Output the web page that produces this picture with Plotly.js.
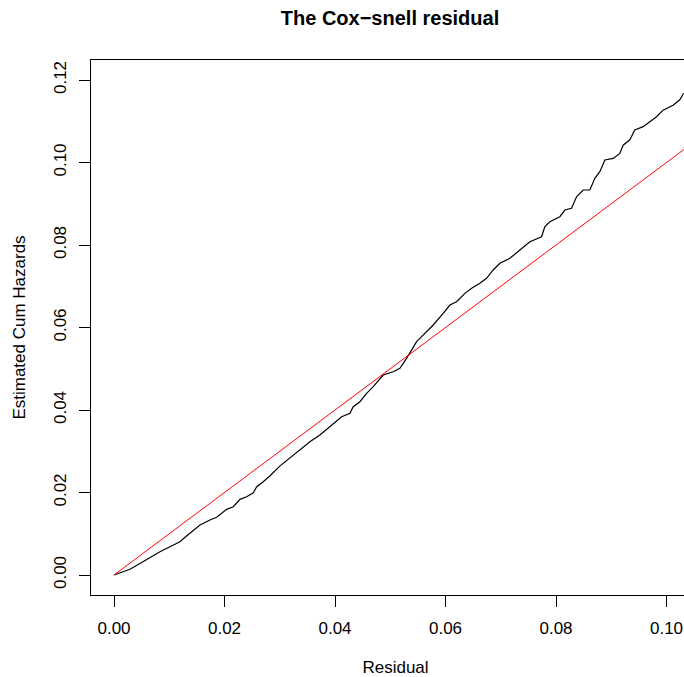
<!DOCTYPE html>
<html>
<head>
<meta charset="utf-8">
<script src="https://cdn.plot.ly/plotly-3.0.1.min.js"></script>
<style>
html, body { margin: 0; padding: 0; overflow: hidden; background: #fff; }
#chart { width: 720px; height: 677px; }
</style>
</head>
<body>
<div id="chart"></div>
<script>
// Cox-Snell residuals (x) vs estimated cumulative hazards (y)
const residual = [0, 0.00289, 0.0047, 0.0065, 0.00832, 0.01013, 0.01194, 0.01285, 0.01496, 0.01556,
  0.01737, 0.01858, 0.02039, 0.02159, 0.0228, 0.02401, 0.02521, 0.02583, 0.02701, 0.0282,
  0.0300, 0.0318, 0.03365, 0.03546, 0.03727, 0.03908, 0.0412, 0.0427, 0.0433, 0.04451,
  0.04572, 0.04692, 0.04813, 0.04872, 0.05053, 0.05175, 0.05296, 0.05355, 0.05477, 0.05567,
  0.05658, 0.05777, 0.05958, 0.06079, 0.062, 0.0636, 0.0648, 0.06622, 0.06743, 0.06863,
  0.06984, 0.07165, 0.07346, 0.07527, 0.07738, 0.07798, 0.07889, 0.0807, 0.0816, 0.08281,
  0.08372, 0.08491, 0.08612, 0.08703, 0.08793, 0.08884, 0.09034, 0.09155, 0.09215, 0.09336,
  0.09426, 0.09577, 0.09698, 0.09819, 0.09938, 0.1012, 0.1024, 0.1031];
const cumHazard = [0, 0.00138, 0.0028, 0.00429, 0.00565, 0.00686, 0.00807, 0.00914, 0.01132, 0.01212,
  0.01333, 0.01398, 0.01592, 0.01655, 0.01834, 0.01897, 0.01994, 0.02139, 0.02261, 0.0240,
  0.0264, 0.0284, 0.0303, 0.03232, 0.03394, 0.03595, 0.03838, 0.0392, 0.0408, 0.04201,
  0.04405, 0.04565, 0.04768, 0.04848, 0.04928, 0.05011, 0.05253, 0.05375, 0.05656, 0.05777,
  0.05898, 0.06061, 0.06344, 0.06545, 0.06625, 0.0684, 0.0696, 0.07071, 0.07193, 0.07394,
  0.07556, 0.07677, 0.07879, 0.0808, 0.08201, 0.08444, 0.08565, 0.08686, 0.08848, 0.08889,
  0.0917, 0.09333, 0.09333, 0.09616, 0.09777, 0.1006, 0.101, 0.1022, 0.1042, 0.1055,
  0.1079, 0.1087, 0.1099, 0.1111, 0.1127, 0.1139, 0.1152, 0.1168];
// reference line y = x (intercept 0, slope 1)
const refLineX = [0, 0.12];
const refLineY = [0, 0.12];
const xTicks = [0, 0.02, 0.04, 0.06, 0.08, 0.10];
const xTickLabels = ["0.00", "0.02", "0.04", "0.06", "0.08", "0.10"];
const yTicks = [0, 0.02, 0.04, 0.06, 0.08, 0.10, 0.12];
const yTickLabels = ["0.00", "0.02", "0.04", "0.06", "0.08", "0.10", "0.12"];

const FONT = "Liberation Sans, Arial, Helvetica, sans-serif";

const traces = [
  { x: residual, y: cumHazard, type: "scatter", mode: "lines",
    line: { color: "#000000", width: 1.2 }, hoverinfo: "skip" },
  { x: refLineX, y: refLineY, type: "scatter", mode: "lines",
    line: { color: "#FF0000", width: 1 }, hoverinfo: "skip" }
];

const axisCommon = {
  showgrid: false, zeroline: false,
  showline: true, mirror: true, linecolor: "#000", linewidth: 1,
  ticks: "outside", ticklen: 11, tickwidth: 1, tickcolor: "#000",
  tickfont: { family: FONT, size: 17, color: "#000" }
};

const layout = {
  width: 720, height: 677,
  margin: { l: 91, r: 20, t: 60, b: 82, pad: 0 },
  paper_bgcolor: "#fff", plot_bgcolor: "#fff",
  showlegend: false,
  title: {
    text: "The Cox\u2212snell residual",
    font: { family: FONT, size: 20, color: "#000", weight: "bold" },
    xref: "container", x: 390 / 720, xanchor: "center",
    yref: "container", y: 1 - 18 / 677, yanchor: "middle"
  },
  xaxis: Object.assign({}, axisCommon, {
    range: [-0.004163, 0.10606],
    tickvals: xTicks, ticktext: xTickLabels,
    ticklabelstandoff: 7,
    title: { text: "Residual", font: { family: FONT, size: 17, color: "#000" }, standoff: 23 }
  }),
  yaxis: Object.assign({}, axisCommon, {
    range: [-0.004848, 0.12485],
    tickvals: yTicks, ticktext: yTickLabels,
    tickangle: -90,
    ticklabelstandoff: 6,
    title: { text: "Estimated Cum Hazards", font: { family: FONT, size: 17, color: "#000" }, standoff: 21 }
  })
};

Plotly.newPlot("chart", traces, layout, { displayModeBar: false, staticPlot: true, responsive: false });
</script>
</body>
</html>
